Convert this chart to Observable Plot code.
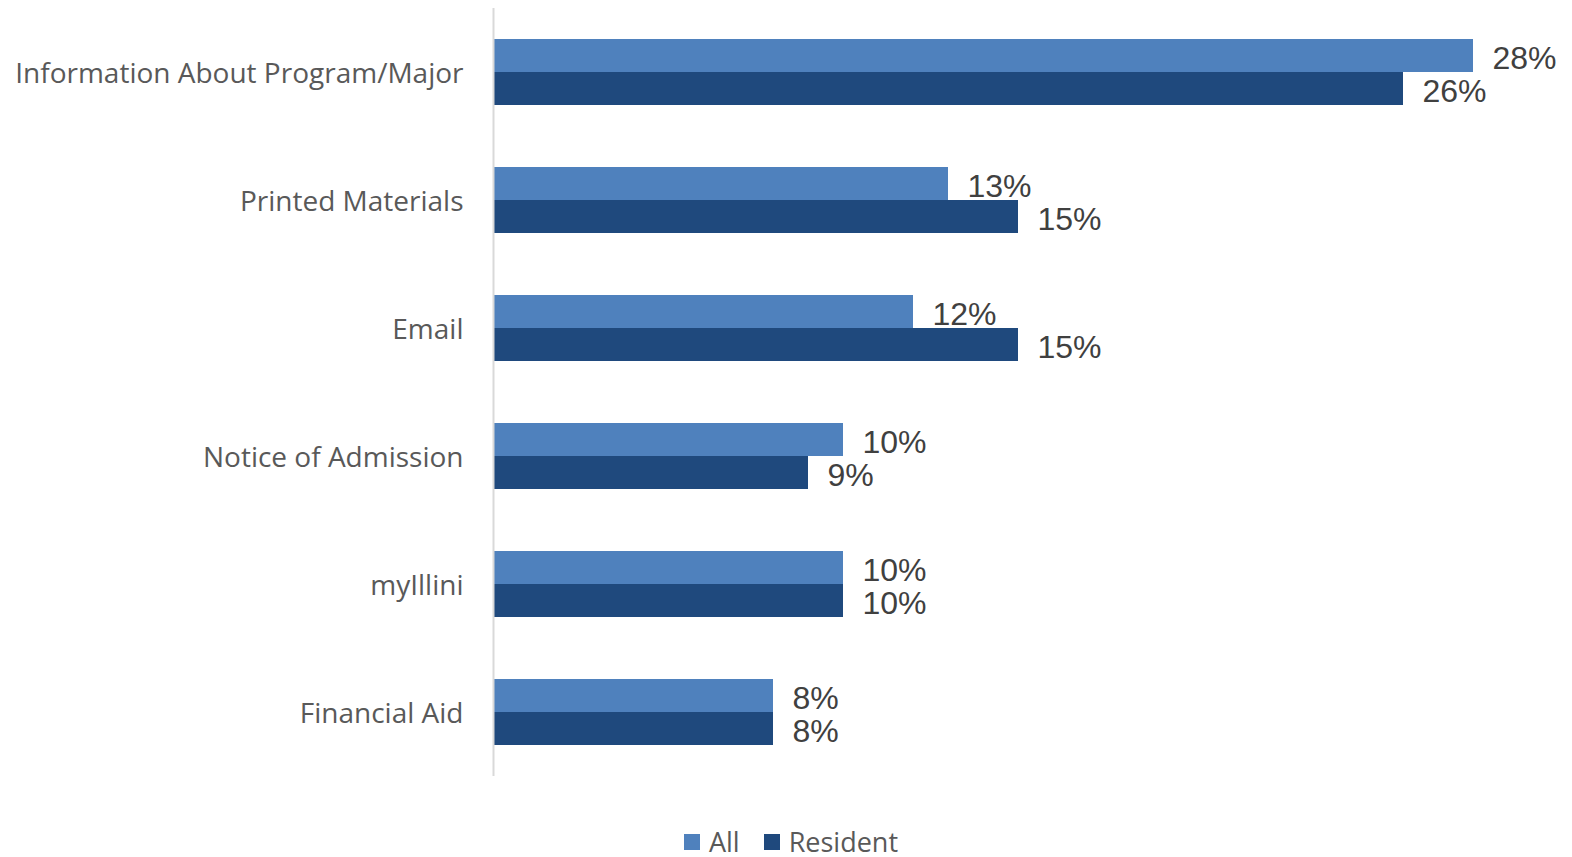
<!DOCTYPE html>
<html>
<head>
<meta charset="utf-8">
<script src="https://cdn.jsdelivr.net/npm/d3@7"></script>
<script src="https://cdn.jsdelivr.net/npm/@observablehq/plot@0.6"></script>
<style>
  html, body { margin: 0; padding: 0; background: #fff; overflow: hidden; }
  #chart { width: 1572px; }
  .legend { display: flex; justify-content: center; align-items: center; margin-top: 26px; line-height: 32px; height: 32px;
    font-family: "Open Sans", sans-serif; font-size: 27px; color: #595959; padding-left: 10px; }
  .legend .item { display: flex; align-items: center; margin: 0 12px; }
  .legend .sw { width: 16px; height: 16px; display: inline-block; margin-right: 9px; }
</style>
</head>
<body>
<div id="chart"></div>
<script>
const categories = ["Information About Program/Major", "Printed Materials", "Email", "Notice of Admission", "myIllini", "Financial Aid"];
const seriesNames = ["All", "Resident"];
const allValues = [28, 13, 12, 10, 10, 8];
const residentValues = [26, 15, 15, 9, 10, 8];
const colors = ["#4F81BD", "#1F497D"];

const rows = [];
categories.forEach((c, i) => {
  rows.push({category: c, series: "All", value: allValues[i]});
  rows.push({category: c, series: "Resident", value: residentValues[i]});
});

const plot = Plot.plot({
  width: 1572,
  height: 800,
  marginLeft: 493,
  marginRight: 29,
  marginTop: 7,
  marginBottom: 23,
  x: {domain: [0, 30], axis: null},
  y: {domain: seriesNames, paddingInner: 0, paddingOuter: 0.91, axis: null},
  fy: {domain: categories, padding: 0, label: null},
  color: {domain: seriesNames, range: colors},
  style: {fontFamily: "'Open Sans', sans-serif"},
  marks: [
    Plot.barX(rows, {fy: "category", y: "series", x: "value", fill: "series"}),
    Plot.text(rows, {fy: "category", y: "series", x: "value", text: d => d.value + "%",
      textAnchor: "start", dx: 19, dy: 3, fontSize: 32, fill: "#404040",
      fontFamily: "'Liberation Sans', Arial, sans-serif"}),
    Plot.ruleX([0], {stroke: "#d9d9d9", strokeWidth: 2}),
    Plot.axisFy({anchor: "left", tickSize: 0, tickPadding: 30, dy: 2, fontSize: 28, fill: "#595959", label: null})
  ]
});
document.getElementById("chart").appendChild(plot);

const legend = document.createElement("div");
legend.className = "legend";
seriesNames.forEach((s, i) => {
  const item = document.createElement("span");
  item.className = "item";
  const sw = document.createElement("span");
  sw.className = "sw";
  sw.style.background = colors[i];
  item.appendChild(sw);
  item.appendChild(document.createTextNode(s));
  legend.appendChild(item);
});
document.getElementById("chart").appendChild(legend);
</script>
</body>
</html>
